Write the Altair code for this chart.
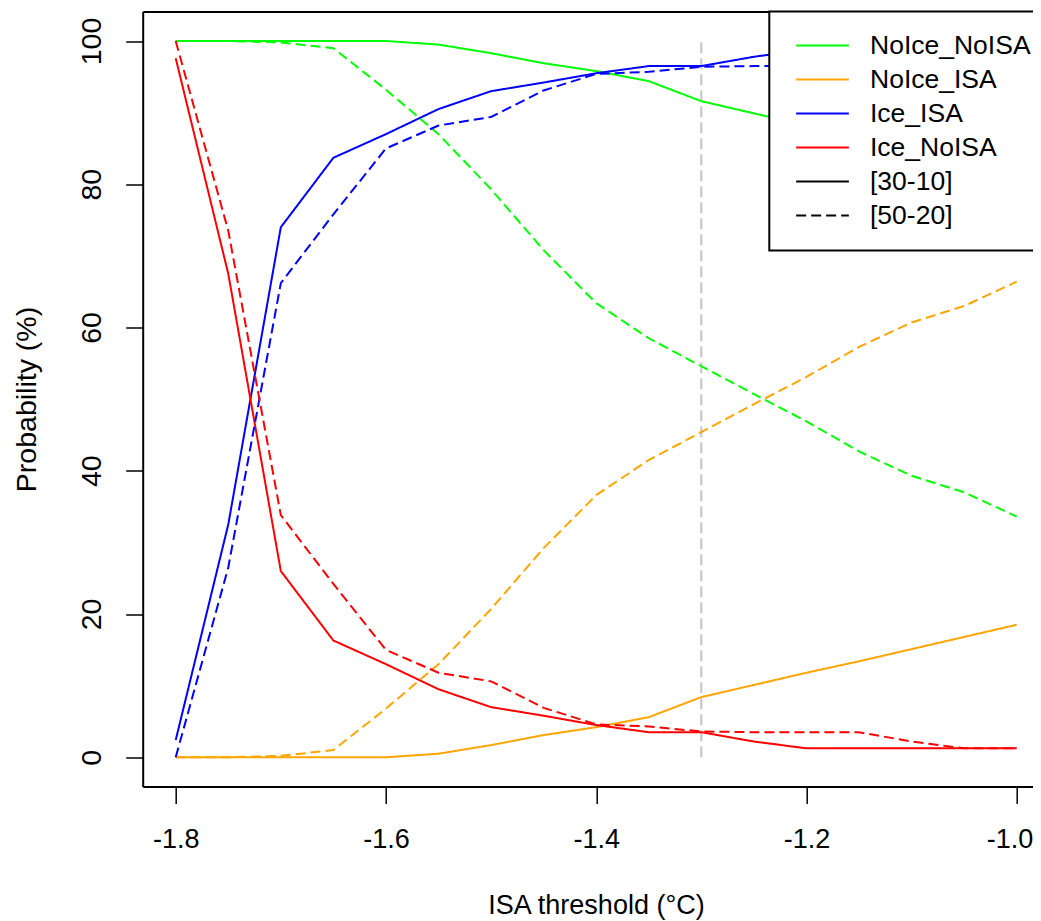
import altair as alt
import pandas as pd

# ---- data ----
x_vals = [-1.8, -1.75, -1.7, -1.65, -1.6, -1.55, -1.5, -1.45, -1.4,
          -1.35, -1.3, -1.25, -1.2, -1.15, -1.1, -1.05, -1.0]

categories = ["NoIce_NoISA", "NoIce_ISA", "Ice_ISA", "Ice_NoISA"]
periods = ["[30-10]", "[50-20]"]
cat_colors = ["#00FF00", "#FFA500", "#0000FF", "#FF0000"]

# [30-10] (solid)
noice_noisa_30 = [100, 100, 100, 100, 100, 99.5, 98.3, 96.9, 95.8, 94.4, 91.6, 89.9, 88.2, 86.6, 84.9, 83.2, 81.5]
noice_isa_30 = [0, 0, 0, 0, 0, 0.5, 1.7, 3.1, 4.2, 5.6, 8.4, 10.1, 11.8, 13.4, 15.1, 16.8, 18.5]
ice_isa_30 = [2.4, 32.5, 74.0, 83.7, 87.0, 90.5, 93.0, 94.2, 95.5, 96.5, 96.5, 97.8, 98.75, 98.75, 98.75, 98.75, 98.75]
ice_noisa_30 = [97.6, 67.5, 26.0, 16.3, 13.0, 9.5, 7.0, 5.8, 4.5, 3.5, 3.5, 2.2, 1.25, 1.25, 1.25, 1.25, 1.25]

# [50-20] (dashed)
noice_noisa_50 = [100, 100, 99.8, 99.0, 93.2, 87.0, 79.3, 70.8, 63.4, 58.5, 54.6, 50.7, 46.9, 42.7, 39.3, 37.0, 33.6]
noice_isa_50 = [0, 0, 0.2, 1.0, 6.8, 13.0, 20.7, 29.2, 36.6, 41.5, 45.4, 49.3, 53.1, 57.3, 60.7, 63.0, 66.4]
ice_isa_50 = [0, 26.5, 66.2, 75.8, 85.0, 88.2, 89.4, 93.1, 95.4, 95.7, 96.4, 96.5, 96.5, 96.5, 97.8, 98.75, 98.75]
ice_noisa_50 = [100, 73.5, 33.8, 24.2, 15.0, 11.8, 10.6, 6.9, 4.6, 4.3, 3.6, 3.5, 3.5, 3.5, 2.2, 1.25, 1.25]

threshold_x = [-1.3]
threshold_lo = [0]
threshold_hi = [100]

x_ticks = [-1.8, -1.6, -1.4, -1.2, -1.0]
y_ticks = [0, 20, 40, 60, 80, 100]

series = {
    ("NoIce_NoISA", "[30-10]"): noice_noisa_30,
    ("NoIce_ISA", "[30-10]"): noice_isa_30,
    ("Ice_ISA", "[30-10]"): ice_isa_30,
    ("Ice_NoISA", "[30-10]"): ice_noisa_30,
    ("NoIce_NoISA", "[50-20]"): noice_noisa_50,
    ("NoIce_ISA", "[50-20]"): noice_isa_50,
    ("Ice_ISA", "[50-20]"): ice_isa_50,
    ("Ice_NoISA", "[50-20]"): ice_noisa_50,
}
rows = []
for (cat, per), vals in series.items():
    for xv, yv in zip(x_vals, vals):
        rows.append({"x": xv, "p": yv, "cat": cat, "period": per})
df = pd.DataFrame(rows)
thr = pd.DataFrame({"x": threshold_x, "p": threshold_lo, "p2": threshold_hi})

FONT = "Liberation Sans"

xscale = alt.Scale(domain=[-1.8314, -0.9845], nice=False, zero=False)
yscale = alt.Scale(domain=[-4.08, 104.12], nice=False, zero=False)

x_axis = alt.Axis(
    values=x_ticks, title="ISA threshold (°C)", grid=False,
    labelExpr="datum.value < 0 ? '-' + format(abs(datum.value), '.1f') : format(datum.value, '.1f')",
    tickSize=17, tickWidth=1.5, tickColor="black",
    domainColor="black", domainWidth=2,
    labelFont=FONT, labelFontSize=27, labelColor="black",
    labelBaseline="alphabetic", labelPadding=44,
    labelFlush=20, labelFlushOffset=16,
    titleFont=FONT, titleFontSize=27, titleFontWeight="normal", titleColor="black",
    titleX=453.3, titleY=127, titleAlign="center", titleBaseline="alphabetic",
)
y_axis = alt.Axis(
    values=y_ticks, title="Probability (%)", grid=False,
    tickSize=17, tickWidth=1.5, tickColor="black",
    domainColor="black", domainWidth=2,
    labelFont=FONT, labelFontSize=28.5, labelColor="black",
    labelAngle=270, labelAlign="center", labelBaseline="alphabetic", labelPadding=25,
    labelFlush=False,
    titleFont=FONT, titleFontSize=28.5, titleFontWeight="normal", titleColor="black",
    titleAngle=270, titleX=-107.7, titleY=387.5, titleAlign="center", titleBaseline="alphabetic",
)
top_axis = alt.Axis(orient="top", labels=False, ticks=False, domain=True, grid=False,
                    title=None, domainColor="black", domainWidth=2)

legend = alt.Legend(
    title=None, orient="none", legendX=626.6, legendY=0,
    symbolType="stroke", symbolSize=2777, symbolStrokeWidth=2,
    symbolOffset=8.2, clipHeight=33.1, rowPadding=0, padding=17.5,
    strokeColor="black", fillColor="white",
    labelFont=FONT, labelFontSize=26.5, labelColor="black",
    labelOffset=20, labelLimit=400,
    symbolDash={"expr": "datum.value == '[50-20]' ? [10, 5] : [1, 0]"},
)

lines = alt.Chart(df).mark_line(strokeWidth=2).encode(
    x=alt.X("x:Q", scale=xscale, axis=x_axis),
    y=alt.Y("p:Q", scale=yscale, axis=y_axis),
    color=alt.Color("cat:N", scale=alt.Scale(domain=categories + periods,
                                             range=cat_colors + ["black", "black"]),
                    legend=legend),
    strokeDash=alt.StrokeDash("period:N", scale=alt.Scale(domain=periods, range=[[1, 0], [10, 5]]),
                              legend=None),
    detail="period:N",
)

vline = alt.Chart(thr).mark_rule(color="#C4C4C4", strokeWidth=2, strokeDash=[11, 5]).encode(
    x=alt.X("x:Q", scale=xscale, axis=top_axis),
    y=alt.Y("p:Q", scale=yscale, axis=y_axis),
    y2="p2:Q",
)

chart = alt.layer(vline, lines).resolve_axis(x="independent").properties(
    width=890.3, height=775,
    autosize=alt.AutoSizeParams(type="none"),
    padding={"left": 134.7, "top": 3.5, "right": 0, "bottom": 134.5},
    background="white",
).configure_view(stroke=None).configure_legend(strokeWidth=2)

chart.save("out.html", embed_options={"renderer": "svg", "actions": False})
